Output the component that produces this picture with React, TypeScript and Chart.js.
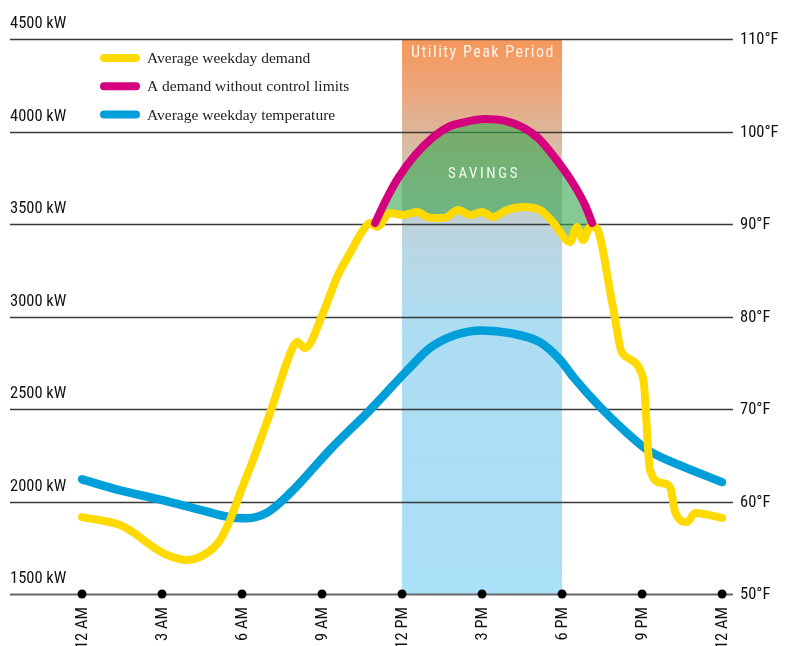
import React, { useEffect, useRef } from "react";
import { Chart, registerables } from "chart.js";

Chart.register(...registerables);

// Hours since midnight (0..24)
const demandHours = [0, 1.42, 1.91, 2.55, 3.19, 3.94, 4.69, 5.18, 5.55, 5.93, 6.41, 7.05, 7.91, 8.06, 8.36, 9.04, 9.56, 10.05, 10.54, 10.8, 11.06, 11.55, 12.04, 12.56, 12.94, 13.31, 13.69, 14.1, 14.55, 15.0, 15.41, 15.94, 16.54, 17.18, 17.66, 18.3, 18.56, 18.79, 19.05, 19.24, 19.91, 20.25, 21.04, 21.3, 21.75, 22.05, 22.24, 22.69, 22.99, 24.0];
const demandKW = [1916, 1873, 1835, 1765, 1711, 1684, 1722, 1792, 1900, 2046, 2224, 2478, 2835, 2862, 2830, 3019, 3213, 3343, 3467, 3505, 3484, 3559, 3549, 3565, 3538, 3532, 3538, 3576, 3549, 3565, 3538, 3576, 3592, 3576, 3510, 3403, 3484, 3413, 3484, 3484, 3051, 2803, 2667, 2170, 2100, 2078, 1943, 1889, 1938, 1911];

const uncontrolledHours = [10.99, 11.36, 11.85, 12.49, 13.13, 13.73, 14.36, 15.11, 15.86, 16.5, 17.1, 17.74, 18.38, 18.86, 19.13];
const uncontrolledKW = [3505, 3619, 3748, 3873, 3965, 4024, 4051, 4067, 4057, 4024, 3965, 3857, 3727, 3603, 3505];

const tempHours = [0, 1.43, 2.93, 4.43, 5.55, 6.19, 6.94, 7.8, 9.3, 10.8, 12.3, 13.05, 13.99, 15.0, 16.05, 17.18, 17.93, 18.41, 19.43, 20.44, 21.19, 22.43, 24.0];
const tempF = [62.4, 61.2, 60.2, 59.1, 58.3, 58.2, 58.8, 60.9, 65.6, 69.9, 74.5, 76.6, 78.0, 78.5, 78.2, 77.2, 75.3, 73.5, 70.2, 67.4, 65.6, 63.9, 62.1];

const kwTicks = [1500, 2000, 2500, 3000, 3500, 4000, 4500];
const tempTicks = [50, 60, 70, 80, 90, 100, 110];
const hourTicks = [0, 3, 6, 9, 12, 15, 18, 21, 24];
const hourLabels = ["12 AM", "3 AM", "6 AM", "9 AM", "12 PM", "3 PM", "6 PM", "9 PM", "12 AM"];
const peakStart = 12;
const peakEnd = 18;

const legendItems = [
  { label: "Average weekday demand", color: "#FFDA00" },
  { label: "A demand without control limits", color: "#D4007D" },
  { label: "Average weekday temperature", color: "#009FD9" },
];

const COND = '"Liberation Sans Narrow", "Roboto Condensed", Roboto, sans-serif';

const decorPlugin = {
  id: "decor",
  beforeDraw(chart: any) {
    const { ctx, chartArea } = chart;
    const x = chart.scales.x;
    const y = chart.scales.y;
    const x0 = x.getPixelForValue(peakStart);
    const x1 = x.getPixelForValue(peakEnd);
    const g = ctx.createLinearGradient(0, chartArea.top, 0, chartArea.bottom);
    g.addColorStop(0, "#F6975A");
    g.addColorStop(0.08, "#EEA478");
    g.addColorStop(0.2, "#D6BDA6");
    g.addColorStop(0.36, "#BBD6E2");
    g.addColorStop(0.52, "#ADDDF2");
    g.addColorStop(1, "#AAE0F8");
    ctx.save();
    ctx.fillStyle = g;
    ctx.fillRect(x0, chartArea.top, x1 - x0, chartArea.bottom - chartArea.top);
    // grid lines
    kwTicks.forEach((v, i) => {
      const py = Math.round(y.getPixelForValue(v)) + 0.5;
      ctx.beginPath();
      ctx.strokeStyle = i === 0 ? "#666" : "#3a3a3a";
      ctx.lineWidth = i === 0 ? 2 : 1.3;
      ctx.moveTo(chartArea.left, py);
      ctx.lineTo(chartArea.right, py);
      ctx.stroke();
    });
    ctx.restore();
  },
  afterDatasetsDraw(chart: any) {
    const { ctx, chartArea } = chart;
    const x = chart.scales.x;
    const y = chart.scales.y;
    const y2 = chart.scales.y2;
    ctx.save();
    // left labels above grid lines
    ctx.fillStyle = "#111";
    ctx.font = `16.5px ${COND}`;
    ctx.textAlign = "left";
    ctx.textBaseline = "alphabetic";
    kwTicks.forEach((v) => {
      ctx.fillText(`${v} kW`, chartArea.left, y.getPixelForValue(v) - 11);
    });
    // right labels
    ctx.textBaseline = "middle";
    tempTicks.forEach((v) => {
      ctx.fillText(`${v}°F`, chartArea.right + 7, y2.getPixelForValue(v) + 1);
    });
    // x ticks: dots and rotated labels
    const by = y.getPixelForValue(kwTicks[0]);
    hourTicks.forEach((h, i) => {
      const px = x.getPixelForValue(h);
      ctx.beginPath();
      ctx.fillStyle = "#000";
      ctx.arc(px, by, 4.5, 0, Math.PI * 2);
      ctx.fill();
      ctx.save();
      ctx.translate(px, by + 13);
      ctx.rotate(-Math.PI / 2);
      ctx.textAlign = "right";
      ctx.textBaseline = "middle";
      ctx.fillStyle = "#111";
      ctx.font = `16.5px ${COND}`;
      ctx.fillText(hourLabels[i], 0, 1);
      ctx.restore();
    });
    // peak period texts
    const cx = (x.getPixelForValue(peakStart) + x.getPixelForValue(peakEnd)) / 2;
    ctx.fillStyle = "#FFF4EC";
    ctx.textAlign = "center";
    ctx.textBaseline = "middle";
    ctx.font = `16px ${COND}`;
    (ctx as any).letterSpacing = "1.5px";
    ctx.fillText("Utility Peak Period", cx + 1, 53);
    ctx.fillStyle = "#F2FAF2";
    ctx.font = `15px ${COND}`;
    (ctx as any).letterSpacing = "2.6px";
    ctx.fillText("SAVINGS", cx + 2, 174);
    (ctx as any).letterSpacing = "0px";
    // legend
    legendItems.forEach((it, i) => {
      const ly = 58 + i * 28.3;
      ctx.beginPath();
      ctx.strokeStyle = it.color;
      ctx.lineWidth = 8;
      ctx.lineCap = "round";
      ctx.moveTo(104, ly);
      ctx.lineTo(136, ly);
      ctx.stroke();
      ctx.fillStyle = "#222";
      ctx.font = '15.5px "Liberation Serif", "DejaVu Serif", serif';
      ctx.textAlign = "left";
      ctx.textBaseline = "middle";
      ctx.fillText(it.label, 147, ly + 1);
    });
    ctx.restore();
  },
};

export default function App() {
  const ref = useRef<HTMLCanvasElement | null>(null);
  useEffect(() => {
    document.body.style.margin = "0";
    const canvas = ref.current!;
    const chart = new Chart(canvas, {
      type: "line",
      data: {
        datasets: [
          {
            label: "Average weekday demand",
            data: demandHours.map((h, i) => ({ x: h, y: demandKW[i] })),
            borderColor: "#FFDA00",
            borderWidth: 8,
            pointRadius: 0,
            cubicInterpolationMode: "monotone",
            borderCapStyle: "round",
            borderJoinStyle: "round",
            yAxisID: "y",
            order: 1,
            fill: false,
          },
          {
            label: "A demand without control limits",
            data: uncontrolledHours.map((h, i) => ({ x: h, y: uncontrolledKW[i] })),
            borderColor: "#D4007D",
            borderWidth: 8,
            pointRadius: 0,
            cubicInterpolationMode: "monotone",
            borderCapStyle: "round",
            yAxisID: "y",
            order: 0,
            fill: { target: 0, above: "rgba(55,165,78,0.6)", below: "rgba(55,165,78,0.6)" },
          },
          {
            label: "Average weekday temperature",
            data: tempHours.map((h, i) => ({ x: h, y: tempF[i] })),
            borderColor: "#009FD9",
            borderWidth: 8.5,
            pointRadius: 0,
            cubicInterpolationMode: "monotone",
            borderCapStyle: "round",
            yAxisID: "y2",
            order: 2,
            fill: false,
          },
        ],
      },
      options: {
        animation: false,
        responsive: false,
        maintainAspectRatio: false,
        layout: { padding: { left: 10, right: 52, top: 39, bottom: 52 } },
        scales: {
          x: { type: "linear", min: -2.7, max: 24.41, display: false },
          y: { type: "linear", min: 1500, max: 4500, display: false },
          y2: { type: "linear", min: 50, max: 110, display: false },
        },
        plugins: {
          legend: { display: false },
          tooltip: { enabled: false },
          filler: { drawTime: "beforeDatasetsDraw" },
        },
      } as any,
      plugins: [decorPlugin],
    });
    return () => chart.destroy();
  }, []);
  return <canvas ref={ref} width={785} height={646} style={{ display: "block" }} />;
}
